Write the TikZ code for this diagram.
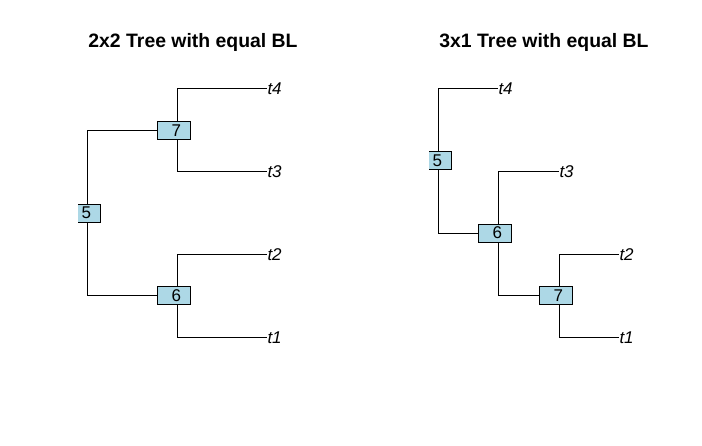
\documentclass[tikz,border=0pt]{standalone}
\usepackage{fontspec}
\setmainfont{Liberation Sans}
\usepackage{tikz}
\usetikzlibrary{calc,positioning}
\definecolor{lightblue}{HTML}{ADD8E6}
\tikzset{
    inner label/.style={
        draw,line width=1pt,
        fill=lightblue,
        minimum width=33pt,minimum height=18pt,inner sep=0pt,
        font=\fontsize{17}{17}\selectfont
    },
    tip label/.style={
        anchor=base west,inner sep=0pt,yshift=-6pt,
        font=\fontsize{17}{17}\selectfont\itshape
    },
    plot title/.style={
        anchor=base,inner sep=0pt,
        font=\fontsize{19.4}{20}\selectfont\bfseries
    },
    branch/.style={line width=1pt}
}
% label text sits a little right of the box centre
\newcommand{\lbl}[1]{\hspace*{5pt}#1}

\begin{document}
\begin{tikzpicture}[x=1pt,y=-1pt]
\useasboundingbox (0,0) rectangle (702,445);
\node[plot title] (title_a) at (193,47) {2x2 Tree with equal BL};
\node[plot title] (title_b) at (544,47) {3x1 Tree with equal BL};

% 2x2 tree
\coordinate (a_5) at (87.3,213);
\coordinate (a_7) at (177.3,130.3);
\coordinate (a_6) at (177.3,295.3);
\foreach \t/\y in {4/88.3,3/171.7,2/254.3,1/337} {
    \coordinate (a_e\t) at (267.3,\y);
    \node[tip label] (a_t\t) at (a_e\t) {t\t};
}
\draw[branch] (a_5) |- (a_7);
\draw[branch] (a_5) |- (a_6);
\draw[branch] (a_7) |- (a_e4);
\draw[branch] (a_7) |- (a_e3);
\draw[branch] (a_6) |- (a_e2);
\draw[branch] (a_6) |- (a_e1);
\begin{scope}
    \clip (78,0) rectangle (702,445);
    \node[inner label] (a_box5) at ([xshift=-3.5pt]a_5) {\lbl{5}};
\end{scope}
\node[inner label] (a_box7) at ([xshift=-3.5pt]a_7) {\lbl{7}};
\node[inner label] (a_box6) at ([xshift=-3.5pt]a_6) {\lbl{6}};

% 3x1 tree
\coordinate (b_5) at (438.3,160.3);
\coordinate (b_6) at (498.3,233);
\coordinate (b_7) at (559.3,295.3);
\foreach \t/\x/\y in {4/498.3/88.3,3/559.3/171.7,2/619.3/254.3,1/619.3/337} {
    \coordinate (b_e\t) at (\x,\y);
    \node[tip label] (b_t\t) at (b_e\t) {t\t};
}
\draw[branch] (b_5) |- (b_e4);
\draw[branch] (b_5) |- (b_6);
\draw[branch] (b_6) |- (b_e3);
\draw[branch] (b_6) |- (b_7);
\draw[branch] (b_7) |- (b_e2);
\draw[branch] (b_7) |- (b_e1);
\begin{scope}
    \clip (429,0) rectangle (702,445);
    \node[inner label] (b_box5) at ([xshift=-3.5pt]b_5) {\lbl{5}};
\end{scope}
\node[inner label] (b_box6) at ([xshift=-3.5pt]b_6) {\lbl{6}};
\node[inner label] (b_box7) at ([xshift=-3.5pt]b_7) {\lbl{7}};
\end{tikzpicture}
\end{document}
